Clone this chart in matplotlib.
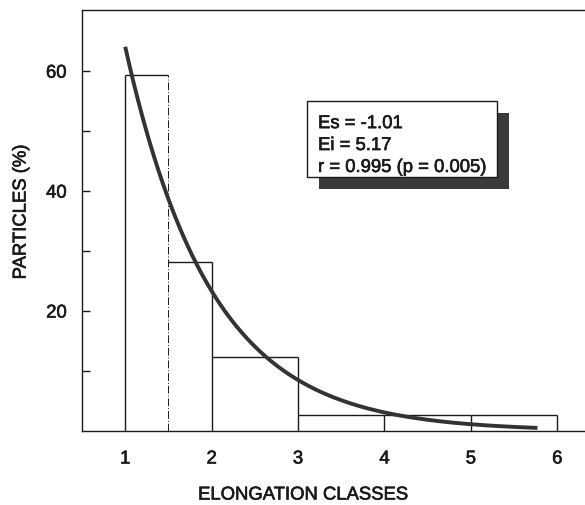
import numpy as np
import matplotlib
matplotlib.use("Agg")
import matplotlib.pyplot as plt
import matplotlib.patheffects as pe
from matplotlib.patches import Rectangle

plt.rcParams['font.family'] = ['Liberation Sans', 'DejaVu Sans']

# elongation class edges and particle percentages
class_edges = [1, 1.5, 2, 3, 4, 5, 6]
particles = [59.3, 28.2, 12.3, 2.6, 2.6, 2.6]
x_ticks = [1, 2, 3, 4, 5, 6]

# exponential fit: ln(y) = Ei + Es * x
Es = -1.01
Ei = 5.17
fit_range = [1.0, 5.77]

ink = "#1a1a1a"
thick = [pe.withStroke(linewidth=0.45, foreground=ink)]
fs = 13.3

fig = plt.figure(figsize=(5.85, 5.05), dpi=100)
ax = fig.add_axes([82 / 585, 74 / 505, 1 - 82 / 585, 421 / 505])

# bar tops
ax.hlines(particles, class_edges[:-1], class_edges[1:], color=ink, lw=1.0)
# bar sides (the 1.5 split is drawn dash-dot)
for i, xe in enumerate(class_edges):
    left = particles[i - 1] if i > 0 else 0
    right = particles[i] if i < len(particles) else 0
    ls = (0, (8, 2, 1, 2)) if xe == 1.5 else "-"
    ax.vlines(xe, 0, max(left, right), color=ink, lw=1.0 if ls == "-" else 0.7,
              linestyles=[ls])

# fitted curve
xs = np.linspace(fit_range[0], fit_range[1], 200)
ax.plot(xs, np.exp(Ei + Es * xs), color="#333333", lw=2.8, solid_capstyle="butt")

ax.set_xlim(0.5, 6.32)
ax.set_ylim(0, 70.2)
ax.set_xticks(x_ticks)
ax.set_yticks([20, 40, 60])
ax.set_yticks([10, 30, 50], minor=True)
ax.tick_params(axis="x", length=0, pad=14, labelsize=fs, labelcolor=ink)
ax.tick_params(axis="y", which="both", direction="in", length=6, width=1,
               color=ink, pad=11, labelsize=fs, labelcolor=ink)
for lab in ax.get_xticklabels() + ax.get_yticklabels():
    lab.set_path_effects(thick)
ax.spines["right"].set_visible(False)
for s in ["left", "top", "bottom"]:
    ax.spines[s].set_color(ink)
    ax.spines[s].set_linewidth(1.0)

ax.set_xlabel("ELONGATION CLASSES", fontsize=fs, color=ink, va="center",
              path_effects=thick)
ax.set_ylabel("PARTICLES (%)", fontsize=fs, color=ink, va="center",
              path_effects=thick)
ax.xaxis.set_label_coords((303 - 82) / 503, (431 - 495) / 421)
ax.yaxis.set_label_coords((21 - 82) / 503, (431 - 212) / 421)

# statistics box with drop shadow
bx0, bx1, by0, by1 = 3.106, 5.305, 42.3, 55.0
dx, dy = 0.14, -1.9
ax.add_patch(Rectangle((bx0 + dx, by0 + dy), bx1 - bx0, by1 - by0,
                       facecolor="#3a3a3a", edgecolor="none", zorder=4))
ax.add_patch(Rectangle((bx0, by0), bx1 - bx0, by1 - by0,
                       facecolor="white", edgecolor=ink, lw=1.0, zorder=5))
ax.text(bx0 + 0.125, 47.6,
        f"Es = {Es:.2f}\nEi = {Ei:.2f}\nr = 0.995 (p = 0.005)",
        fontsize=fs, color=ink, va="center", ha="left", linespacing=1.38,
        zorder=6, path_effects=thick)

fig.savefig("out.png", dpi=100)
